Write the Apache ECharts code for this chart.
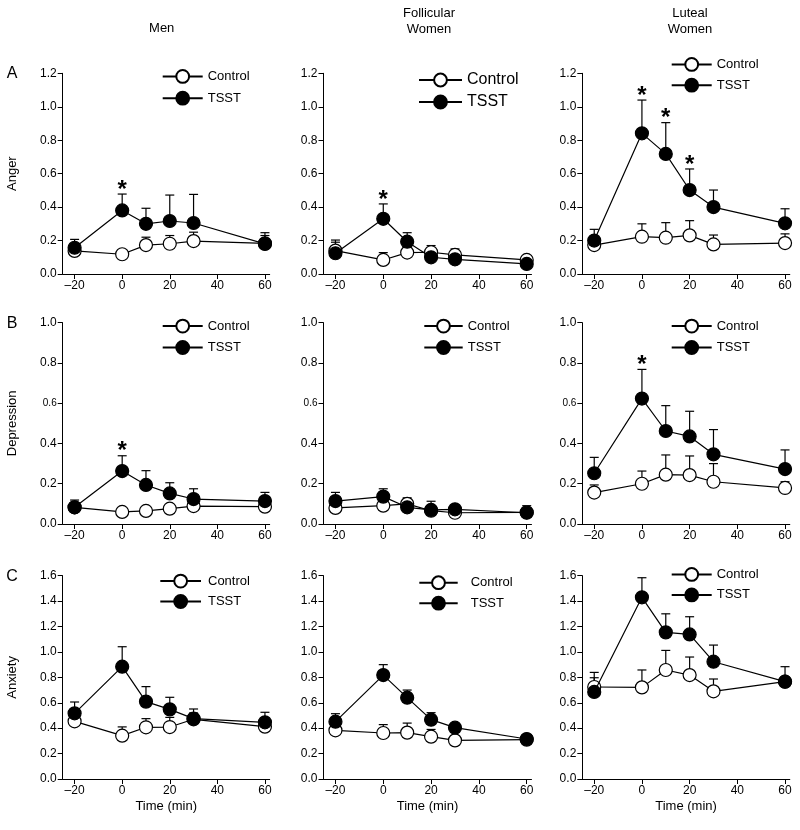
<!DOCTYPE html>
<html>
<head>
<meta charset="utf-8">
<script src="https://cdn.jsdelivr.net/npm/echarts@6/dist/echarts.min.js"></script>
<style>html,body{margin:0;padding:0;background:#fff}#c{width:800px;height:830px}</style>
</head>
<body>
<div id="c"></div>
<script>
// ---- data ----
var times = [-20, 0, 10, 20, 30, 60];
var xTicks = [-20, 0, 20, 40, 60];
var columnTitles = ['Men', 'Follicular\nWomen', 'Luteal\nWomen'];
var rowLetters = ['A', 'B', 'C'];
var rowMeasures = ['Anger', 'Depression', 'Anxiety'];
var rowYMax = [1.2, 1.0, 1.6];
var seriesNames = ['Control', 'TSST'];

// Anger
var angerMenControl = [0.138, 0.118, 0.173, 0.181, 0.197, 0.183];
var angerMenControlErr = [0.17, 0.14, 0.22, 0.23, 0.25, 0.23];
var angerMenTSST = [0.157, 0.38, 0.30, 0.317, 0.305, 0.18];
var angerMenTSSTErr = [0.207, 0.478, 0.393, 0.472, 0.476, 0.247];
var angerMenSig = [0];

var angerFolControl = [0.14, 0.084, 0.128, 0.13, 0.114, 0.084];
var angerFolControlErr = [0.19, 0.128, 0.16, 0.17, 0.15, 0.11];
var angerFolTSST = [0.124, 0.33, 0.193, 0.10, 0.088, 0.06];
var angerFolTSSTErr = [0.203, 0.419, 0.247, 0.13, 0.12, 0.10];
var angerFolSig = [0];

var angerLutControl = [0.173, 0.223, 0.217, 0.231, 0.177, 0.185];
var angerLutControlErr = [0.22, 0.30, 0.307, 0.319, 0.233, 0.24];
var angerLutTSST = [0.20, 0.841, 0.718, 0.502, 0.40, 0.303];
var angerLutTSSTErr = [0.267, 1.04, 0.905, 0.628, 0.502, 0.39];
var angerLutSig = [0, 10, 20];

// Depression
var depMenControl = [0.083, 0.06, 0.065, 0.076, 0.089, 0.086];
var depMenControlErr = [0.10, 0.07, 0.08, 0.09, 0.10, 0.10];
var depMenTSST = [0.083, 0.263, 0.194, 0.152, 0.124, 0.114];
var depMenTSSTErr = [0.119, 0.339, 0.265, 0.205, 0.175, 0.157];
var depMenSig = [0];

var depFolControl = [0.08, 0.091, 0.10, 0.066, 0.056, 0.058];
var depFolControlErr = [0.10, 0.11, 0.13, 0.08, 0.07, 0.07];
var depFolTSST = [0.114, 0.136, 0.083, 0.07, 0.073, 0.056];
var depFolTSSTErr = [0.157, 0.175, 0.12, 0.113, 0.09, 0.091];
var depFolSig = [];

var depLutControl = [0.156, 0.20, 0.245, 0.243, 0.21, 0.179];
var depLutControlErr = [0.194, 0.263, 0.343, 0.338, 0.30, 0.21];
var depLutTSST = [0.252, 0.623, 0.462, 0.435, 0.346, 0.273];
var depLutTSSTErr = [0.331, 0.768, 0.588, 0.56, 0.469, 0.368];
var depLutSig = [0];

// Anxiety
var anxMenControl = [0.454, 0.341, 0.407, 0.409, 0.47, 0.412];
var anxMenControlErr = [0.50, 0.41, 0.475, 0.485, 0.52, 0.46];
var anxMenTSST = [0.517, 0.884, 0.609, 0.548, 0.475, 0.446];
var anxMenTSSTErr = [0.606, 1.041, 0.727, 0.643, 0.551, 0.525];
var anxMenSig = [];

var anxFolControl = [0.383, 0.362, 0.365, 0.333, 0.304, 0.31];
var anxFolControlErr = [0.42, 0.428, 0.44, 0.39, 0.33, 0.33];
var anxFolTSST = [0.451, 0.818, 0.64, 0.467, 0.404, 0.315];
var anxFolTSSTErr = [0.514, 0.90, 0.70, 0.522, 0.438, 0.34];
var anxFolSig = [];

var anxLutControl = [0.724, 0.721, 0.858, 0.818, 0.69, 0.766];
var anxLutControlErr = [0.797, 0.858, 1.012, 0.96, 0.787, 0.80];
var anxLutTSST = [0.685, 1.43, 1.154, 1.138, 0.923, 0.766];
var anxLutTSSTErr = [0.839, 1.584, 1.30, 1.277, 1.054, 0.884];
var anxLutSig = [];

var panels = [
  [ [angerMenControl, angerMenControlErr, angerMenTSST, angerMenTSSTErr, angerMenSig],
    [angerFolControl, angerFolControlErr, angerFolTSST, angerFolTSSTErr, angerFolSig],
    [angerLutControl, angerLutControlErr, angerLutTSST, angerLutTSSTErr, angerLutSig] ],
  [ [depMenControl, depMenControlErr, depMenTSST, depMenTSSTErr, depMenSig],
    [depFolControl, depFolControlErr, depFolTSST, depFolTSSTErr, depFolSig],
    [depLutControl, depLutControlErr, depLutTSST, depLutTSSTErr, depLutSig] ],
  [ [anxMenControl, anxMenControlErr, anxMenTSST, anxMenTSSTErr, anxMenSig],
    [anxFolControl, anxFolControlErr, anxFolTSST, anxFolTSSTErr, anxFolSig],
    [anxLutControl, anxLutControlErr, anxLutTSST, anxLutTSSTErr, anxLutSig] ]
];

// ---- layout ----
var FONT = '"Liberation Sans", Arial, sans-serif';
var colLeft = [62.7, 323.5, 582.3];
var colWidth = [207, 208, 207.5];
var rowTop = [73.3, 322.7, 575.7];
var rowHeight = [200.7, 201.3, 203.3];
var legendPos = [
  [{l:161.7,t:69,w:40,g:7,f:13}, {l:418,t:72,w:43,g:6,f:16}, {l:670.7,t:57,w:40,g:6,f:13}],
  [{l:161.7,t:318.7,w:40,g:6.6,f:13}, {l:423.3,t:318.7,w:38.4,g:6.6,f:13}, {l:670.7,t:318.7,w:40,g:6.6,f:13}],
  [{l:159.3,t:573.7,w:40.7,g:5.6,f:13,p:2}, {l:418.3,t:575.3,w:38.4,g:5.7,f:13,p:8}, {l:670.7,t:567,w:40,g:5.7,f:13}]
];

var grids = [], xAxes = [], yAxes = [], series = [], legends = [], graphics = [];

function errRender(params, api) {
  var x = api.value(0), y = api.value(1), top = api.value(2);
  var p0 = api.coord([x, y]), p1 = api.coord([x, top]);
  var cap = 4.5;
  return {
    type: 'group',
    children: [
      {type: 'line', shape: {x1: p0[0], y1: p0[1], x2: p1[0], y2: p1[1]}, style: {stroke: '#000', lineWidth: 1.2}},
      {type: 'line', shape: {x1: p1[0] - cap, y1: p1[1], x2: p1[0] + cap, y2: p1[1]}, style: {stroke: '#000', lineWidth: 1.2}}
    ]
  };
}
function starRender(params, api) {
  var x = api.value(0), top = api.value(1);
  var p = api.coord([x, top]);
  return {
    type: 'text',
    x: p[0], y: p[1] + 8,
    style: {text: '*', font: 'bold 24px ' + FONT, fill: '#000', align: 'center', verticalAlign: 'bottom'}
  };
}

for (var r = 0; r < 3; r++) {
  for (var c = 0; c < 3; c++) {
    var idx = r * 3 + c;
    var d = panels[r][c];
    grids.push({left: colLeft[c], top: rowTop[r], width: colWidth[c], height: rowHeight[r]});
    xAxes.push({
      type: 'value', gridIndex: idx, min: -25, max: 62,
      axisLine: {show: true, onZero: false, lineStyle: {color: '#000', width: 1}},
      axisTick: {show: true, inside: false, length: 5, customValues: xTicks, lineStyle: {color: '#000'}},
      axisLabel: {show: true, customValues: xTicks, color: '#000', fontSize: 12, fontFamily: FONT, margin: 6,
        formatter: function (v) { return v < 0 ? '\u2013' + Math.abs(v) : String(v); }},
      splitLine: {show: false},
      name: r === 2 ? 'Time (min)' : '', nameLocation: 'middle', nameGap: 21,
      nameTextStyle: {color: '#000', fontSize: 13, fontFamily: FONT}
    });
    yAxes.push({
      type: 'value', gridIndex: idx, min: 0, max: rowYMax[r], interval: 0.2,
      axisLine: {show: true, onZero: false, lineStyle: {color: '#000', width: 1}},
      axisTick: {show: true, inside: false, length: 5, lineStyle: {color: '#000'}},
      axisLabel: {show: true, color: '#000', fontSize: 12, fontFamily: FONT, margin: 6,
        formatter: (r === 1) ? function (v) { var s = v.toFixed(1); return s === '0.6' ? '{s|' + s + '}' : s; }
                             : function (v) { return v.toFixed(1); },
        rich: {s: {fontSize: 10, fontFamily: FONT, color: '#000'}}},
      splitLine: {show: false},
      name: c === 0 ? rowMeasures[r] : '', nameLocation: 'middle', nameGap: 44,
      nameTextStyle: {color: '#000', fontSize: 13, fontFamily: FONT}
    });
    var ctrlErr = [], tsstErr = [], ctrl = [], tsst = [], stars = [];
    for (var i = 0; i < times.length; i++) {
      ctrl.push([times[i], d[0][i]]);
      ctrlErr.push([times[i], d[0][i], d[1][i]]);
      tsst.push([times[i], d[2][i]]);
      tsstErr.push([times[i], d[2][i], d[3][i]]);
      if (d[4].indexOf(times[i]) >= 0) stars.push([times[i], d[3][i]]);
    }
    series.push({type: 'custom', xAxisIndex: idx, yAxisIndex: idx, renderItem: errRender, data: ctrlErr, z: 1, silent: true, encode: {x: 0, y: [1, 2]}});
    series.push({type: 'custom', xAxisIndex: idx, yAxisIndex: idx, renderItem: errRender, data: tsstErr, z: 1, silent: true, encode: {x: 0, y: [1, 2]}});
    series.push({name: 'Control', type: 'line', xAxisIndex: idx, yAxisIndex: idx, data: ctrl, z: 2,
      symbol: 'circle', symbolSize: 13, showSymbol: true,
      lineStyle: {color: '#000', width: 1.2}, itemStyle: {color: '#fff', borderColor: '#000', borderWidth: 1.2},
      emphasis: {disabled: true}, animation: false});
    series.push({name: 'TSST', type: 'line', xAxisIndex: idx, yAxisIndex: idx, data: tsst, z: 3,
      symbol: 'circle', symbolSize: 13, showSymbol: true,
      lineStyle: {color: '#000', width: 1.2}, itemStyle: {color: '#000', borderColor: '#000', borderWidth: 1.2},
      emphasis: {disabled: true}, animation: false});
    series.push({type: 'custom', xAxisIndex: idx, yAxisIndex: idx, renderItem: starRender, data: stars, z: 4, silent: true, encode: {x: 0, y: 1}});
    var lp = legendPos[r][c];
    legends.push({
      data: seriesNames, orient: 'vertical', left: lp.l, top: lp.t, padding: 0,
      itemWidth: lp.w, itemHeight: 16, itemGap: lp.g, selectedMode: false,
      textStyle: {color: '#000', fontSize: lp.f, fontFamily: FONT, padding: [0, 0, 0, lp.p || 0]}
    });
  }
}

var colCenters = [161.7, 429, 690];
for (var c2 = 0; c2 < 3; c2++) {
  var lines = columnTitles[c2].split('\n');
  for (var k = 0; k < lines.length; k++) {
    var yy = lines.length === 1 ? 28.5 : (k === 0 ? 13.3 : 29.3);
    graphics.push({type: 'text', x: colCenters[c2], y: yy, style: {text: lines[k], font: '13px ' + FONT, fill: '#000', align: 'center', verticalAlign: 'middle'}});
  }
}
for (var r2 = 0; r2 < 3; r2++) {
  graphics.push({type: 'text', x: 12, y: rowTop[r2] + 0.5, style: {text: rowLetters[r2], font: '16px ' + FONT, fill: '#000', align: 'center', verticalAlign: 'middle'}});
}

var chart = echarts.init(document.getElementById('c'), null, {renderer: 'canvas'});
chart.setOption({
  animation: false,
  backgroundColor: '#fff',
  grid: grids, xAxis: xAxes, yAxis: yAxes, series: series, legend: legends,
  graphic: graphics
});
</script>
</body>
</html>
